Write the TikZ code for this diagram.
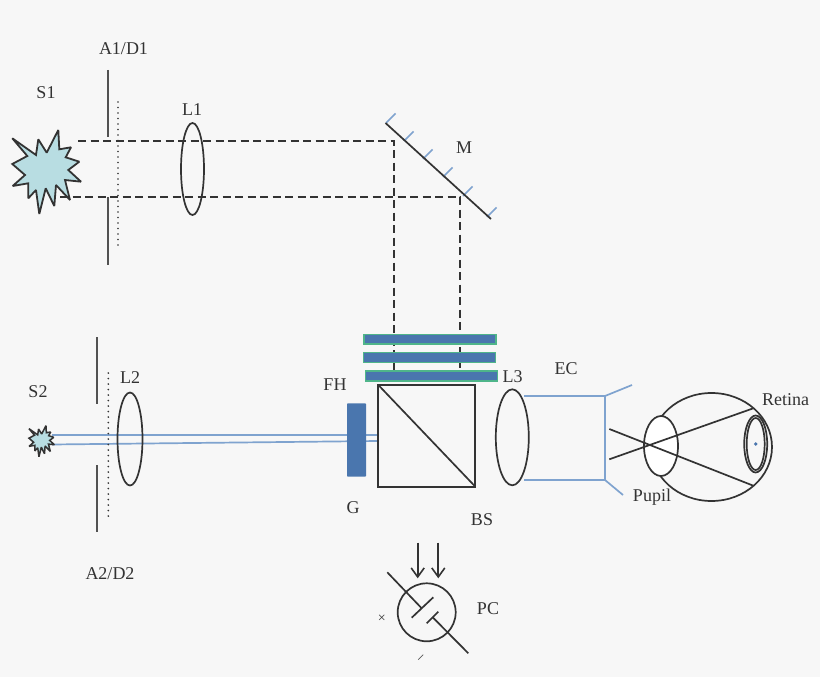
\documentclass[tikz,border=0pt]{standalone}
\usepackage{fontspec}
\setmainfont{Liberation Serif}
\usetikzlibrary{arrows.meta,shapes.geometric}
\definecolor{bgc}{HTML}{F7F7F7}
\definecolor{ink}{HTML}{333333}
\definecolor{beam}{HTML}{7FA3CF}
\definecolor{plate}{HTML}{4A76AE}
\definecolor{rim}{HTML}{4FB58A}
\definecolor{burst}{HTML}{B8DDE2}
\tikzset{
  lbl/.style={text=ink,font=\fontsize{18}{20}\selectfont,inner sep=0pt,yshift=-1pt},
  optic/.style={draw=ink,line width=1.7pt},
  lens/.style={draw=ink,line width=1.7pt,ellipse,inner sep=0pt,outer sep=0pt},
  ray/.style={draw=ink,line width=1.6pt,dash pattern=on 8pt off 4.5pt},
  slit/.style={draw=ink!85,line width=2pt},
  dots/.style={draw=ink,line width=1.9pt,line cap=round,dash pattern=on 0pt off 5.5pt},
  bluel/.style={draw=beam,line width=1.7pt},
  filt/.style={draw=rim,fill=plate,line width=1.6pt,inner sep=0pt,outer sep=0pt},
  burstshape/.style={draw=ink,fill=burst,line width=1.8pt,line join=miter,miter limit=2},
  openhead/.style={-{Straight Barb[length=9pt,width=13pt,line width=1.6pt]}}
}
\newcommand{\burstpath}{(12.3,138.3)--(36,155)--(38.3,139.3)--(46.7,152.7)--(58.3,130)--(59.3,149.3)--(71,147.3)--(65.7,157.3)--(79.3,161.7)--(68.3,170)--(81,181.7)--(65,180)--(70,200)--(56,185)--(54.3,206)--(45.7,188.3)--(39.3,214)--(36,190)--(28.3,198.3)--(28.3,183.3)--(12.7,186)--(25,175)--(12.3,164)--(27.3,156)--cycle}
\begin{document}
\begin{tikzpicture}[x=1pt,y=-1pt]
\path[use as bounding box,fill=bgc] (0,0) rectangle (820,677);
% upper source and rays
\coordinate (r1a) at (78,141); \coordinate (r1b) at (394,141); \coordinate (r1c) at (394,378);
\coordinate (r2a) at (60,197); \coordinate (r2b) at (460,197); \coordinate (r2c) at (460,378);
\draw[burstshape] \burstpath;
\draw[ray] (r1a)--(r1b)--(r1c);
\draw[ray] (r2a)--(r2b)--(r2c);
\draw[slit] (108,70)--(108,137);
\draw[slit] (108,197)--(108,265);
\draw[dots] (118,102)--(118,246);
\node[lens,minimum width=23pt,minimum height=92pt] (L1) at (192.5,169) {};
% mirror
\coordinate (m1) at (385.5,123); \coordinate (m2) at (491,219);
\foreach \x/\y in {386/123,404/141,423/159,443/177,463/196,487/217}
  \draw[bluel] (\x,\y)--++(9.5,-9.5);
\draw[optic] (m1)--(m2);
% lower source
\coordinate (b1a) at (52,435); \coordinate (b1b) at (378,435);
\coordinate (b2a) at (52,444.5); \coordinate (b2b) at (378,441);
\draw[bluel] (b1a)--(b1b);
\draw[bluel] (b2a)--(b2b);
\begin{scope}[shift={(24.4,377.5)},scale=0.37]
  \draw[burstshape,line width=1.5pt] \burstpath;
\end{scope}
\draw[slit] (96.7,337)--(96.7,404);
\draw[slit] (96.7,465)--(96.7,531.7);
\draw[dots] (108.3,373)--(108.3,517);
\node[lens,minimum width=25pt,minimum height=93pt] (L2) at (130,439) {};
% filters
\node[filt,minimum width=132pt,minimum height=9.7pt] (F1) at (429.8,339.2) {};
\node[filt,minimum width=132pt,minimum height=9.7pt] (F2) at (429.5,357.5) {};
\node[filt,minimum width=132pt,minimum height=10pt] (F3) at (431.3,376) {};
\node[draw=none,fill=plate,inner sep=0pt,minimum width=19pt,minimum height=73.4pt,rounded corners=0.8pt] (G) at (356.5,440) {};
% beam splitter
\node[optic,inner sep=0pt,outer sep=0pt,minimum width=97pt,minimum height=101.7pt] (BS) at (426.8,435.8) {};
\draw[optic] (BS.north west)--(BS.south east);
\node[lens,minimum width=33pt,minimum height=96pt] (L3) at (512.3,437.3) {};
% eyepiece
\coordinate (e1) at (524,396); \coordinate (e2) at (605,396);
\coordinate (e3) at (524,480); \coordinate (e4) at (605,480);
\coordinate (e5) at (632,385); \coordinate (e6) at (623,495);
\draw[bluel] (e1)--(e2)--(e4)--(e3);
\draw[bluel] (e2)--(e5);
\draw[bluel] (e4)--(e6);
% eye
\node[lens,minimum width=121pt,minimum height=108pt] (EYE) at (711.5,447) {};
\node[lens,fill=white,minimum width=34pt,minimum height=60pt] (PUP) at (661,446) {};
\node[lens,minimum width=23pt,minimum height=57pt] (RO) at (755.7,444) {};
\node[lens,minimum width=18pt,minimum height=52pt] (RI) at (755.7,444) {};
\fill[plate] (755.7,444) circle (1.8pt);
\coordinate (t1) at (609.3,429); \coordinate (t2) at (753.3,485.7);
\coordinate (t3) at (609.3,459.3); \coordinate (t4) at (753.3,408.3);
\draw[optic] (t1)--(t2);
\draw[optic] (t3)--(t4);
% photocell
\node[draw=ink,line width=1.7pt,circle,inner sep=0pt,minimum size=58pt] (PCc) at (426.7,612.3) {};
\draw[optic] (387.3,572.3)--(421.7,608.3);
\draw[optic] (411.7,617.7)--(433.3,597.3);
\draw[optic] (426.7,623.3)--(438.3,611.7);
\draw[optic] (432.7,617.3)--(468.3,653.3);
\coordinate (a1s) at (417.7,542.7); \coordinate (a1e) at (417.7,578.3);
\coordinate (a2s) at (438.3,542.7); \coordinate (a2e) at (438.3,578.3);
\draw[optic,openhead] (a1s)--(a1e);
\draw[optic,openhead] (a2s)--(a2e);
% labels
\node[lbl] (tA1) at (123.5,48) {A1/D1};
\node[lbl] (tS1) at (46,92) {S1};
\node[lbl] (tL1) at (192,108.5) {L1};
\node[lbl] (tM) at (464,147) {M};
\node[lbl] (tS2) at (38,391) {S2};
\node[lbl] (tL2) at (130,377) {L2};
\node[lbl] (tFH) at (335,384) {FH};
\node[lbl] (tG) at (353,507) {G};
\node[lbl] (tBS) at (482,519) {BS};
\node[lbl] (tL3) at (512.5,376) {L3};
\node[lbl] (tEC) at (566,368) {EC};
\node[lbl] (tPC) at (488,608) {PC};
\node[lbl] (tR) at (785.5,399) {Retina};
\node[lbl] (tP) at (652,496.5) {Pupil};
\node[lbl] (tA2) at (110,573) {A2/D2};
\node[lbl,font=\fontsize{14}{14}\selectfont] (tx) at (381.7,617.7) {×};
\node[lbl,font=\fontsize{14}{14}\selectfont,rotate=45] (tm) at (421.7,658) {–};
\end{tikzpicture}
\end{document}
